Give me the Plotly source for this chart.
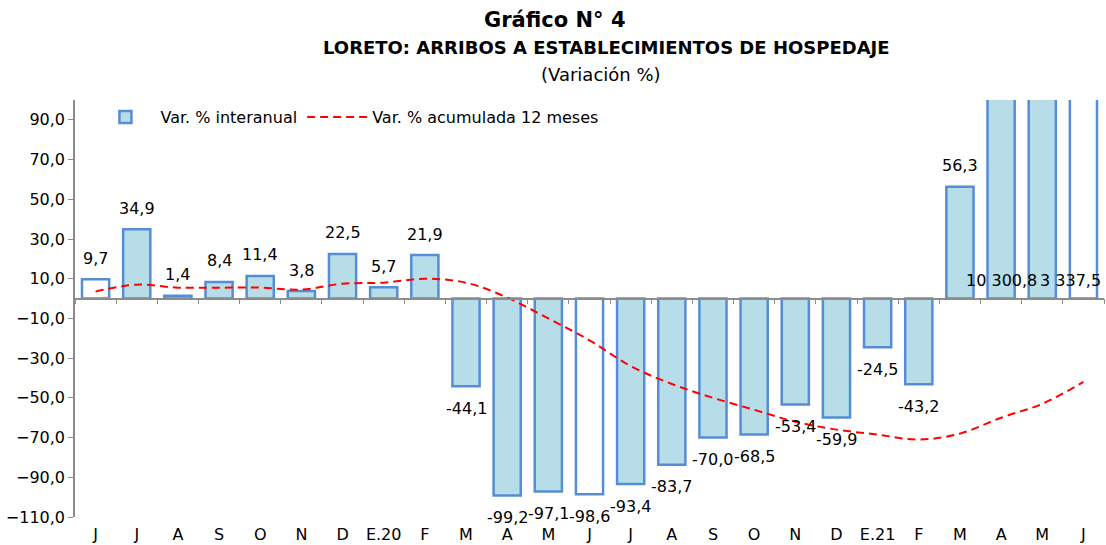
import plotly.graph_objects as go

months = ["J", "J", "A", "S", "O", "N", "D", "E.20", "F", "M", "A", "M",
          "J", "J", "A", "S", "O", "N", "D", "E.21", "F", "M", "A", "M", "J"]
var_interanual = [9.7, 34.9, 1.4, 8.4, 11.4, 3.8, 22.5, 5.7, 21.9, -44.1, -99.2, -97.1,
                  -98.6, -93.4, -83.7, -70.0, -68.5, -53.4, -59.9, -24.5, -43.2, 56.3,
                  10300.8, 1500.0, 3337.5]  # May 2021 value not legible (clipped)
var_acum12 = [3.5, 7.0, 5.5, 5.5, 5.5, 4.5, 7.5, 8.0, 10.0, 8.0, 0.5, -10.0,
              -21.0, -34.0, -43.0, -50.0, -56.0, -62.0, -66.0, -68.5, -71.0, -68.0,
              -60.0, -53.0, -42.0]
bar_labels = ["9,7", "34,9", "1,4", "8,4", "11,4", "3,8", "22,5", "5,7", "21,9", "-44,1",
              "-99,2", "-97,1", "-98,6", "-93,4", "-83,7", "-70,0", "-68,5", "-53,4",
              "-59,9", "-24,5", "-43,2", "56,3", "10 300,8", "", "3 337,5"]
white_months = [0, 12, 24]
y_ticks = [-110, -90, -70, -50, -30, -10, 10, 30, 50, 70, 90]

YMIN, YMAX = -110, 100
FONT = "DejaVu Sans"
BAR_FILL = "#B7DEE8"
BAR_LINE = "#558ED5"
x = list(range(len(months)))

fills = ["#FFFFFF" if i in white_months else BAR_FILL for i in x]

fig = go.Figure()
fig.add_trace(go.Bar(
    x=x, y=var_interanual, name="Var. % interanual", showlegend=False,
    marker=dict(color=fills, line=dict(color=BAR_LINE, width=2.5)),
    width=0.66,
))
# legend entry for the bars (filled swatch)
fig.add_trace(go.Bar(
    x=[None], y=[None], name="Var. % interanual",
    marker=dict(color=BAR_FILL, line=dict(color=BAR_LINE, width=2.5)),
))
fig.add_trace(go.Scatter(
    x=x, y=var_acum12, name="Var. % acumulada 12 meses", mode="lines",
    line=dict(color="#FF0000", width=2, dash="8px,5px", shape="spline"),
    xaxis="x2",
))

annotations = []
for i, (v, t) in enumerate(zip(var_interanual, bar_labels)):
    if not t:
        continue
    f = dict(family=FONT, size=16, color="#000")
    if v > YMAX:
        if i == len(months) - 1:
            annotations.append(dict(x=i + 0.5, y=0, text=t, showarrow=False, xref="x", yref="y",
                                    xanchor="right", yanchor="middle", yshift=18, xshift=-1,
                                    font=f))
        else:
            annotations.append(dict(x=i, y=0, text=t, showarrow=False, xref="x", yref="y",
                                    xanchor="center", yanchor="middle", yshift=18, font=f))
    else:
        annotations.append(dict(x=i, y=v, text=t, showarrow=False, xref="x", yref="y",
                                xanchor="center", yanchor="middle",
                                yshift=21 if v >= 0 else -22, font=f))

annotations += [
    dict(text="<b>Gráfico N° 4</b>", x=0.466, y=1.192, xref="paper", yref="paper",
         showarrow=False, xanchor="center", yanchor="middle",
         font=dict(family=FONT, size=21, color="#000")),
    dict(text="<b>LORETO: ARRIBOS A ESTABLECIMIENTOS DE HOSPEDAJE</b>", x=0.517, y=1.127,
         xref="paper", yref="paper", showarrow=False, xanchor="center", yanchor="middle",
         font=dict(family=FONT, size=18, color="#000")),
    dict(text="(Variación %)", x=0.511, y=1.06, xref="paper", yref="paper",
         showarrow=False, xanchor="center", yanchor="middle",
         font=dict(family=FONT, size=18, color="#000")),
]

zero_pos = (0 - YMIN) / (YMAX - YMIN)

fig.update_layout(
    width=1106, height=545,
    margin=dict(l=75, r=2, t=100, b=28, autoexpand=False),
    paper_bgcolor="#FFFFFF", plot_bgcolor="#FFFFFF",
    separators=", ",
    font=dict(family=FONT, size=16, color="#000"),
    showlegend=True,
    legend=dict(orientation="h", x=0.015, y=1.0, xanchor="left", yanchor="top",
                font=dict(family=FONT, size=16, color="#000"), bgcolor="rgba(0,0,0,0)",
                itemwidth=60, traceorder="normal"),
    bargap=0.32,
    xaxis=dict(range=[-0.5, len(months) - 0.5], tickvals=x, ticktext=months,
               showline=False, showgrid=False, zeroline=False, ticks="", automargin=False,
               ticklabelstandoff=6,
               tickfont=dict(family=FONT, size=16, color="#000")),
    xaxis2=dict(range=[-0.5, len(months) - 0.5], overlaying="x", anchor="free",
                position=zero_pos, side="bottom", automargin=False,
                tickvals=[i - 0.5 for i in range(len(months) + 1)],
                showticklabels=False, ticks="outside", ticklen=5, tickwidth=1,
                tickcolor="#8C8C8C", showline=True, linecolor="#8C8C8C", linewidth=1.5,
                showgrid=False, zeroline=False),
    yaxis=dict(range=[YMIN, YMAX], tickvals=y_ticks, tickformat=".1f", automargin=False,
               showline=True, linecolor="#8C8C8C", linewidth=1.5,
               ticks="outside", ticklen=5, tickcolor="#8C8C8C",
               showgrid=False, zeroline=False,
               tickfont=dict(family=FONT, size=16, color="#000")),
    annotations=annotations,
)

fig.write_html("out.html", config={"displayModeBar": False},
               post_script="document.body.style.margin='0';")
